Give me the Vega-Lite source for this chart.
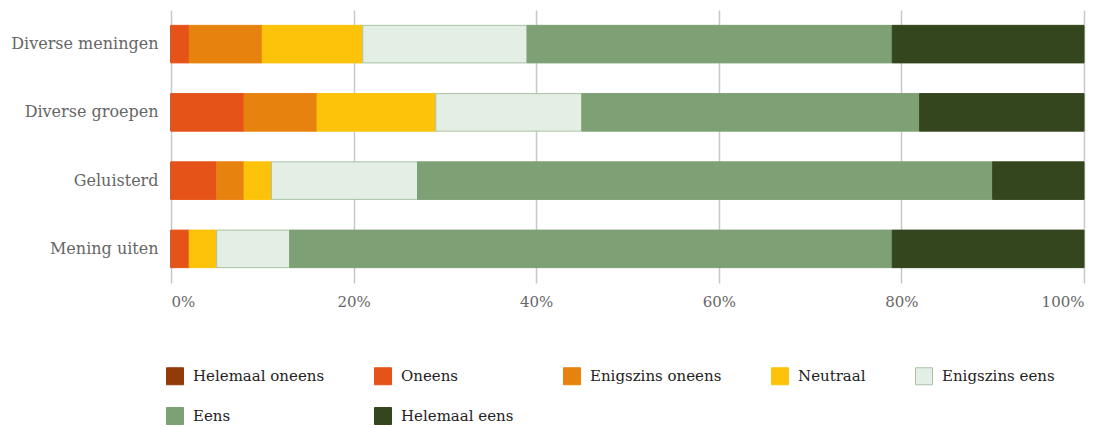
{
  "$schema": "https://vega.github.io/schema/vega-lite/v6.json",
  "width": 913,
  "height": 273,
  "autosize": "none",
  "padding": {"left": 171, "top": 10, "right": 33, "bottom": 145},
  "config": {
    "view": {"stroke": null},
    "font": "DejaVu Serif"
  },
  "data": {
    "values": [
      {"vraag": "Diverse meningen", "antwoord": "Helemaal oneens", "volgorde": 1, "pct": 0},
      {"vraag": "Diverse meningen", "antwoord": "Oneens", "volgorde": 2, "pct": 2},
      {"vraag": "Diverse meningen", "antwoord": "Enigszins oneens", "volgorde": 3, "pct": 8},
      {"vraag": "Diverse meningen", "antwoord": "Neutraal", "volgorde": 4, "pct": 11},
      {"vraag": "Diverse meningen", "antwoord": "Enigszins eens", "volgorde": 5, "pct": 18},
      {"vraag": "Diverse meningen", "antwoord": "Eens", "volgorde": 6, "pct": 40},
      {"vraag": "Diverse meningen", "antwoord": "Helemaal eens", "volgorde": 7, "pct": 21},
      {"vraag": "Diverse groepen", "antwoord": "Helemaal oneens", "volgorde": 1, "pct": 0},
      {"vraag": "Diverse groepen", "antwoord": "Oneens", "volgorde": 2, "pct": 8},
      {"vraag": "Diverse groepen", "antwoord": "Enigszins oneens", "volgorde": 3, "pct": 8},
      {"vraag": "Diverse groepen", "antwoord": "Neutraal", "volgorde": 4, "pct": 13},
      {"vraag": "Diverse groepen", "antwoord": "Enigszins eens", "volgorde": 5, "pct": 16},
      {"vraag": "Diverse groepen", "antwoord": "Eens", "volgorde": 6, "pct": 37},
      {"vraag": "Diverse groepen", "antwoord": "Helemaal eens", "volgorde": 7, "pct": 18},
      {"vraag": "Geluisterd", "antwoord": "Helemaal oneens", "volgorde": 1, "pct": 0},
      {"vraag": "Geluisterd", "antwoord": "Oneens", "volgorde": 2, "pct": 5},
      {"vraag": "Geluisterd", "antwoord": "Enigszins oneens", "volgorde": 3, "pct": 3},
      {"vraag": "Geluisterd", "antwoord": "Neutraal", "volgorde": 4, "pct": 3},
      {"vraag": "Geluisterd", "antwoord": "Enigszins eens", "volgorde": 5, "pct": 16},
      {"vraag": "Geluisterd", "antwoord": "Eens", "volgorde": 6, "pct": 63},
      {"vraag": "Geluisterd", "antwoord": "Helemaal eens", "volgorde": 7, "pct": 10},
      {"vraag": "Mening uiten", "antwoord": "Helemaal oneens", "volgorde": 1, "pct": 0},
      {"vraag": "Mening uiten", "antwoord": "Oneens", "volgorde": 2, "pct": 2},
      {"vraag": "Mening uiten", "antwoord": "Enigszins oneens", "volgorde": 3, "pct": 0},
      {"vraag": "Mening uiten", "antwoord": "Neutraal", "volgorde": 4, "pct": 3},
      {"vraag": "Mening uiten", "antwoord": "Enigszins eens", "volgorde": 5, "pct": 8},
      {"vraag": "Mening uiten", "antwoord": "Eens", "volgorde": 6, "pct": 66},
      {"vraag": "Mening uiten", "antwoord": "Helemaal eens", "volgorde": 7, "pct": 21}
    ]
  },
  "mark": {"type": "bar", "strokeWidth": 1},
  "encoding": {
    "y": {
      "field": "vraag",
      "type": "nominal",
      "sort": ["Diverse meningen", "Diverse groepen", "Geluisterd", "Mening uiten"],
      "scale": {"paddingInner": 0.45, "paddingOuter": 0.225},
      "axis": {
        "title": null,
        "domain": false,
        "ticks": false,
        "labelFontSize": 16,
        "labelColor": "#666666",
        "labelPadding": 13,
        "labelFont": "DejaVu Serif"
      }
    },
    "x": {
      "field": "pct",
      "type": "quantitative",
      "stack": "zero",
      "scale": {"domain": [0, 100], "nice": false},
      "axis": {
        "title": null,
        "values": [0, 20, 40, 60, 80, 100],
        "labelExpr": "datum.value + '%'",
        "domain": false,
        "ticks": false,
        "grid": true,
        "gridColor": "#c8c8c8",
        "gridWidth": 1.5,
        "labelFontSize": 15,
        "labelColor": "#666666",
        "labelPadding": 11,
        "labelFont": "DejaVu Serif"
      }
    },
    "order": {"field": "volgorde", "type": "quantitative"},
    "color": {
      "field": "antwoord",
      "type": "nominal",
      "scale": {
        "domain": ["Helemaal oneens", "Oneens", "Enigszins oneens", "Neutraal", "Enigszins eens", "Eens", "Helemaal eens"],
        "range": ["#933a0b", "#e55318", "#e8820f", "#fcc30a", "#e3eee5", "#7ea075", "#34461e"]
      },
      "legend": {
        "title": null,
        "orient": "none",
        "legendX": -5,
        "legendY": 357,
        "direction": "horizontal",
        "columns": 5,
        "symbolType": "square",
        "symbolSize": 289,
        "symbolStrokeWidth": 1,
        "labelFontSize": 15,
        "labelColor": "#222222",
        "labelFont": "DejaVu Serif",
        "labelOffset": 9,
        "labelLimit": 300,
        "columnPadding": 47,
        "rowPadding": 18,
        "gridAlign": "each"
      }
    },
    "stroke": {
      "field": "antwoord",
      "type": "nominal",
      "scale": {
        "domain": ["Helemaal oneens", "Oneens", "Enigszins oneens", "Neutraal", "Enigszins eens", "Eens", "Helemaal eens"],
        "range": ["#933a0b", "#e55318", "#e8820f", "#fcc30a", "#a8c3a6", "#7ea075", "#34461e"]
      }
    }
  }
}
